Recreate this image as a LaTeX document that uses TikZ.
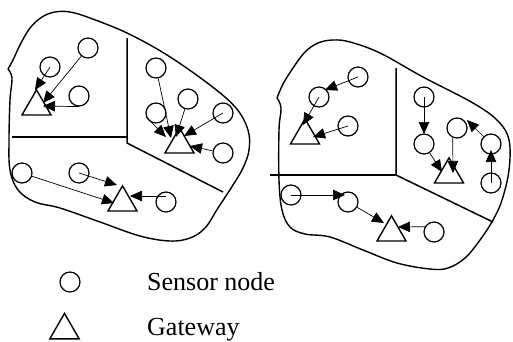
\documentclass[tikz,border=0pt]{standalone}
\usepackage{fontspec}
\setmainfont{Liberation Serif}
\usetikzlibrary{arrows.meta,shapes.geometric}
\tikzset{
  region/.style={line width=1.4pt, line join=round},
  divider/.style={line width=1.5pt},
  sensor/.style={draw, circle, minimum size=20pt, inner sep=0pt, line width=1.2pt},
  gateway/.style={draw, fill=white, regular polygon, regular polygon sides=3,
    minimum size=33.5pt, inner sep=0pt, line width=1.4pt},
  link/.style={line width=0.7pt, -{Triangle[length=12pt,width=10.5pt]}},
  legendtext/.style={anchor=base west, inner sep=0pt, font=\fontsize{26}{30}\selectfont}
}
\begin{document}
\begin{tikzpicture}[x=1pt,y=-1pt]
\useasboundingbox (0,0) rectangle (513,341);

% ---------- left field ----------
\draw[region] plot[smooth, tension=0.6] coordinates {
  (8,69) (13,60) (20,45) (30,28) (42,17) (55,12) (70,12) (90,18) (127,33)
  (167,55) (210,85) (236,108) (248,130) (249,150) (243,168) (233,185)
  (218,208) (205,228) (190,238) (170,241) (140,236) (100,222) (60,208)
  (35,202) (18,190) (10,170) (9,140) (10,100) (12,78) (8,69)};
\draw[divider] (127,38) -- (127,143) -- (223,192);
\draw[divider] (12,137) -- (127,137);

% upper-left cluster
\node[sensor] (a1) at (88,48) {};
\node[sensor] (a2) at (50,67) {};
\node[sensor] (a3) at (79,96) {};
\node[gateway] (g1) at (36.5,106.6) {};
\coordinate (ta1) at (43,103);
\coordinate (ta2) at (35,90);
\coordinate (ta3) at (43,106);
\draw[link] (a2.center) -- (ta2);
\draw[link] (a1) -- (ta1);
\draw[link] (a3.south) -- (ta3);

% right cluster
\node[sensor] (b1) at (156,68) {};
\node[sensor] (b2) at (188,99) {};
\node[sensor] (b3) at (156,113) {};
\node[sensor] (b4) at (223,113) {};
\node[sensor] (b5) at (223,153) {};
\node[gateway] (g2) at (179.5,144.6) {};
\coordinate (tb1) at (171,138);
\coordinate (tb2) at (176,137);
\coordinate (tb3) at (166,137);
\coordinate (tb4) at (184,136);
\coordinate (tb5) at (190,146);
\draw[link] (b1) -- (tb1);
\draw[link] (b2) -- (tb2);
\draw[link] (b3.202) -- (tb3);
\draw[link] (b4.center) -- (tb4);
\draw[link] (b5) -- (tb5);

% lower cluster
\node[sensor] (c1) at (22,173) {};
\node[sensor] (c2) at (79,173) {};
\node[sensor] (c3) at (166,202) {};
\node[gateway] (g3) at (122.5,202.6) {};
\coordinate (tc1) at (114,203);
\coordinate (tc2) at (117,185);
\coordinate (tc3) at (130,196);
\draw[link] (c1) -- (tc1);
\draw[link] (c2.center) -- (tc2);
\draw[link] ([yshift=6pt]c3.center) -- (tc3);

% ---------- right field ----------
\draw[region] plot[smooth, tension=0.6] coordinates {
  (277,98) (283,84) (293,68) (305,52) (318,43) (333,40) (350,42) (380,53)
  (423,77) (473,103) (498,121) (509,140) (509,170) (502,200) (493,220)
  (480,240) (465,258) (448,268) (430,269) (397,263) (363,250) (330,237)
  (305,234) (290,227) (282,210) (279,180) (279,130) (281,108) (277,98)};
\draw[divider] (396,68) -- (396,175) -- (493,222);
\draw[divider] (270,175) -- (396,175);

% upper-left cluster
\node[sensor] (d1) at (358,77) {};
\node[sensor] (d2) at (319,97) {};
\node[sensor] (d3) at (348,126) {};
\node[gateway] (g4) at (305,135.6) {};
\coordinate (td1) at (325,90);
\coordinate (td2) at (303,125);
\coordinate (td3) at (313,137);
\draw[link] (d1.center) -- (td1);
\draw[link] (d2.center) -- (td2);
\draw[link] (d3.center) -- (td3);

% right cluster (multi-hop)
\node[sensor] (e1) at (424,97) {};
\node[sensor] (e2) at (424,144) {};
\node[sensor] (e3) at (457,128) {};
\node[sensor] (e4) at (491,144) {};
\node[sensor] (e5) at (491,183) {};
\node[gateway] (g5) at (449,174.6) {};
\coordinate (te1) at (424,134);
\coordinate (te2) at (442,172);
\coordinate (te3) at (453,173);
\coordinate (te4) at (467,120);
\coordinate (te5) at (491,150);
\draw[link] (e1.center) -- (te1);
\draw[link] (e2) -- (te2);
\draw[link] (e3.246) -- (te3);
\draw[link] (e4) -- (te4);
\draw[link] (e5.center) -- (te5);

% lower cluster
\node[sensor] (f1) at (291,195) {};
\node[sensor] (f2) at (348,202) {};
\node[sensor] (f3) at (434,232) {};
\node[gateway] (g6) at (391.5,232.6) {};
\coordinate (tf1) at (345,195);
\coordinate (tf2) at (384,223);
\coordinate (tf3) at (398,227);
\draw[link] (f1.center) -- (tf1);
\draw[link] (f2) -- (tf2);
\draw[link] (f3.150) -- (tf3);

% ---------- legend ----------
\node[sensor] (keysensor) at (70,282) {};
\node[gateway, minimum size=34pt] (keygateway) at (64.5,330.4) {};
\node[legendtext] (keysensortext) at (147,290) {Sensor node};
\node[legendtext] (keygatewaytext) at (147,335) {Gateway};
\end{tikzpicture}
\end{document}
